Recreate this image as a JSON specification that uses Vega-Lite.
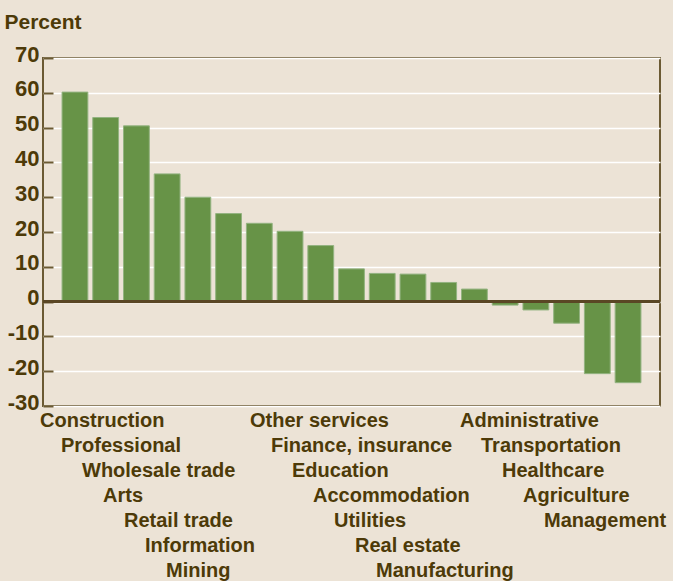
{
  "$schema": "https://vega.github.io/schema/vega-lite/v6.json",
  "background": "#ECE3D6",
  "padding": {"left": 3, "top": 10, "right": 5, "bottom": 5},
  "bounds": "flush",
  "config": {
    "font": "Liberation Sans",
    "view": {"stroke": null},
    "axisY": {
      "tickCount": 10,
      "labelFontSize": 22, "labelFontWeight": "bold", "labelColor": "#4D3A08",
      "labelOffset": -4, "labelPadding": 14, "labelOverlap": false, "labelFlush": false, "labelBound": false,
      "tickSize": -10, "tickColor": "#6B5A33", "tickWidth": 2,
      "domain": false,
      "grid": true, "gridColor": "#FFFFFF", "gridWidth": 1.5, "gridOpacity": 1,
      "titleAngle": 0, "titleAlign": "left", "titleBaseline": "alphabetic",
      "titleX": -39, "titleY": -30, "titleFontSize": 21, "titleFontWeight": "bold", "titleColor": "#4D3A08"
    }
  },
  "spacing": 15,
  "data": {"values": [
    {"industry": "Construction", "value": 60.2, "group": 1, "tier": 1},
    {"industry": "Professional", "value": 52.9, "group": 1, "tier": 2},
    {"industry": "Wholesale trade", "value": 50.5, "group": 1, "tier": 3},
    {"industry": "Arts", "value": 36.7, "group": 1, "tier": 4},
    {"industry": "Retail trade", "value": 30.0, "group": 1, "tier": 5},
    {"industry": "Information", "value": 25.3, "group": 1, "tier": 6},
    {"industry": "Mining", "value": 22.5, "group": 1, "tier": 7},
    {"industry": "Other services", "value": 20.2, "group": 2, "tier": 1},
    {"industry": "Finance, insurance", "value": 16.1, "group": 2, "tier": 2},
    {"industry": "Education", "value": 9.4, "group": 2, "tier": 3},
    {"industry": "Accommodation", "value": 8.1, "group": 2, "tier": 4},
    {"industry": "Utilities", "value": 7.9, "group": 2, "tier": 5},
    {"industry": "Real estate", "value": 5.5, "group": 2, "tier": 6},
    {"industry": "Manufacturing", "value": 3.6, "group": 2, "tier": 7},
    {"industry": "Administrative", "value": -1.0, "group": 3, "tier": 1},
    {"industry": "Transportation", "value": -2.4, "group": 3, "tier": 2},
    {"industry": "Healthcare", "value": -6.2, "group": 3, "tier": 3},
    {"industry": "Agriculture", "value": -20.7, "group": 3, "tier": 4},
    {"industry": "Management", "value": -23.3, "group": 3, "tier": 5}
  ]},
  "vconcat": [
    {
      "width": 617,
      "height": 348,
      "view": {"stroke": "#6B5A33", "strokeWidth": 2},
      "layer": [
        {
          "mark": {"type": "bar", "fill": "#679347", "stroke": "#93B380", "strokeWidth": 1},
          "encoding": {
            "x": {"field": "industry", "type": "nominal", "sort": null,
                  "scale": {"paddingInner": 0.16, "paddingOuter": 0.62}, "axis": null},
            "y": {"field": "value", "type": "quantitative",
                  "scale": {"domain": [-30, 70], "nice": false, "zero": false},
                  "axis": {
                    "title": "Percent",
                    "labelExpr": "datum.value < 0 ? '-' + abs(datum.value) : '' + datum.value"
                  }}
          }
        },
        {
          "mark": {"type": "rule", "color": "#5A4724", "strokeWidth": 2},
          "encoding": {"y": {"datum": 0}}
        }
      ]
    },
    {
      "width": 630,
      "height": 150,
      "view": {"stroke": null},
      "mark": {"type": "text", "align": "left", "baseline": "middle", "fontSize": 20, "fontWeight": "bold", "color": "#4D3A08", "dx": -13.5},
      "encoding": {
        "x": {"field": "group", "type": "ordinal", "scale": {"type": "band", "paddingInner": 0, "paddingOuter": 0}, "axis": null},
        "xOffset": {"field": "tier", "type": "ordinal", "scale": {"type": "band", "domain": [1, 2, 3, 4, 5, 6, 7, 8], "paddingInner": 0, "paddingOuter": 1, "align": 0}},
        "y": {"field": "tier", "type": "ordinal", "scale": {"type": "point", "padding": 0}, "axis": null},
        "text": {"field": "industry"}
      }
    }
  ]
}
